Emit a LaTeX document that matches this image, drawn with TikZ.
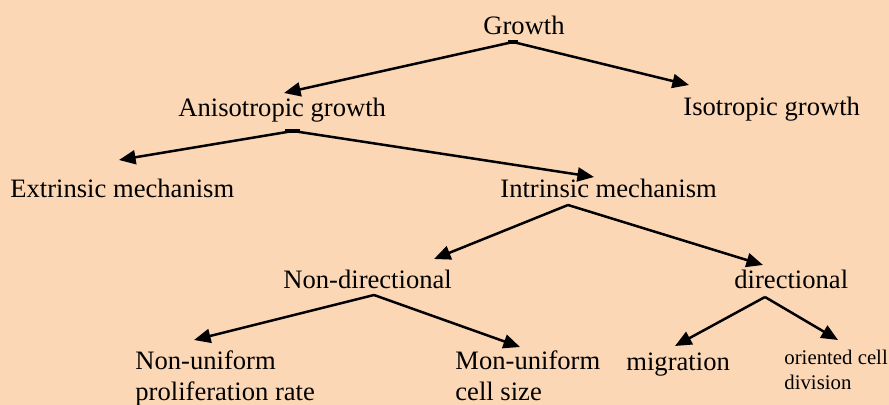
\documentclass[tikz,border=0pt]{standalone}
\usepackage{fontspec}
\setmainfont{Liberation Serif}
\usetikzlibrary{arrows.meta}
\definecolor{bgpeach}{RGB}{252,215,181}
\begin{document}
\begin{tikzpicture}[x=0.5pt,y=-0.5pt,
  lbl/.style={inner sep=0pt, anchor=base west, font=\fontsize{13.3}{15.5}\selectfont},
  smalllbl/.style={inner sep=0pt, anchor=base west, font=\fontsize{10.4}{12.5}\selectfont},
  arr/.style={line width=1.25pt, line join=round, -{Triangle[length=8.3pt,width=7pt]}},
  tick/.style={line width=1.6pt}]
\fill[bgpeach] (0,0) rectangle (889,405);
\useasboundingbox (0,0) rectangle (889,405);
% labels
\node[lbl] (growth) at (483,35) {Growth};
\node[lbl] (aniso) at (178,117) {Anisotropic growth};
\node[lbl] (iso) at (683,116) {Isotropic growth};
\node[lbl] (extr) at (10,198) {Extrinsic mechanism};
\node[lbl] (intr) at (500,198) {Intrinsic mechanism};
\node[lbl] (nondir) at (283,289) {Non-directional};
\node[lbl] (dir) at (734,289) {directional};
\node[lbl] (nonunif) at (135,370) {\vtop{\hbox{Non-uniform}\hbox{proliferation rate}}};
\node[lbl] (monunif) at (455,370) {\vtop{\hbox{Mon-uniform}\hbox{cell size}}};
\node[lbl] (migr) at (626,371) {migration};
\node[smalllbl] (orient) at (784,365) {\vtop{\hbox{oriented cell}\hbox{division}}};
% junctions and arrow tips
\coordinate (gJ) at (513,42);
\coordinate (anisoT) at (284,93);
\coordinate (isoT) at (689,85);
\coordinate (aJ) at (293,131);
\coordinate (extrT) at (119,160);
\coordinate (intrT) at (594,177);
\coordinate (iJ) at (568,205);
\coordinate (nondirT) at (434,259);
\coordinate (dirT) at (763,265);
\coordinate (nJ) at (374,295);
\coordinate (nonunifT) at (194,340);
\coordinate (monunifT) at (520,347);
\coordinate (dJ) at (765,297);
\coordinate (migrT) at (675,346);
\coordinate (orientT) at (838,340);
% small bars at the upper junctions
\draw[tick] ([xshift=-2.5pt]gJ) -- ([xshift=2.5pt]gJ);
\draw[tick] ([xshift=-4pt]aJ) -- ([xshift=3.5pt]aJ);
% connectors
\draw[arr] (gJ) -- (anisoT);
\draw[arr] (gJ) -- (isoT);
\draw[arr] (aJ) -- (extrT);
\draw[arr] (aJ) -- (intrT);
\draw[arr] (iJ) -- (nondirT);
\draw[arr] (iJ) -- (dirT);
\draw[arr] (nJ) -- (nonunifT);
\draw[arr] (nJ) -- (monunifT);
\draw[arr] (dJ) -- (migrT);
\draw[arr] (dJ) -- (orientT);
\end{tikzpicture}
\end{document}
